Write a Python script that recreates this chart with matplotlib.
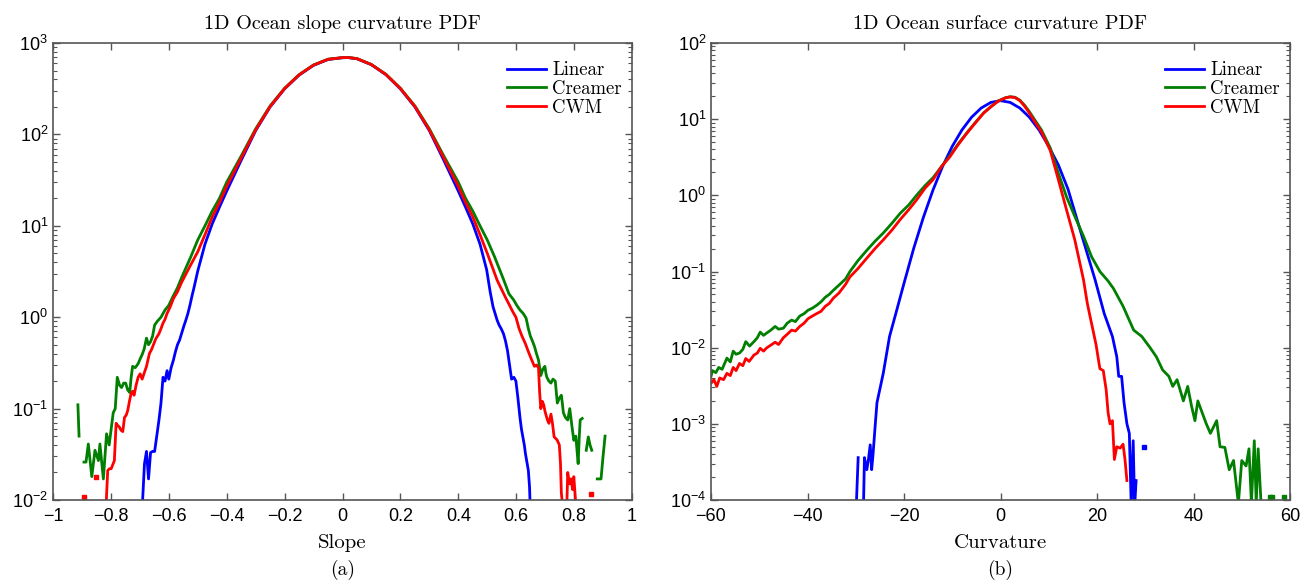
import numpy as np
import matplotlib
matplotlib.use("Agg")
import matplotlib.pyplot as plt

nan = np.nan

# ---- (a) slope PDF ----
slope_lin_x = [-0.692, -0.684, -0.677, -0.670, -0.663, -0.656, -0.649, -0.642, -0.634, -0.627,
               -0.620, -0.613, -0.606, -0.600, -0.592, -0.584, -0.577, -0.570, -0.563, -0.556,
               -0.548, -0.541, -0.534, -0.527, -0.520, -0.513, -0.50, -0.475, -0.45, -0.425,
               -0.40, -0.35, -0.30, -0.25, -0.20, -0.15, -0.10, -0.05, 0.0, 0.02,
               0.05, 0.10, 0.15, 0.20, 0.25, 0.30, 0.35, 0.40, 0.425, 0.45,
               0.475, 0.498, 0.510, 0.520, 0.527, 0.534, 0.541, 0.548, 0.556, 0.563,
               0.570, 0.577, 0.584, 0.592, 0.599, 0.606, 0.613, 0.618, 0.623, 0.628,
               0.632, 0.637, 0.642, 0.646, 0.650]
slope_lin_y = [0.008, 0.025, 0.034, 0.017, 0.033, 0.034, 0.034, 0.049, 0.075, 0.115,
               0.22, 0.20, 0.26, 0.21, 0.28, 0.34, 0.42, 0.50, 0.56, 0.66,
               0.80, 0.93, 1.1, 1.35, 1.7, 2.1, 3.2, 6.3, 10.5, 16,
               24, 52, 110, 200, 315, 445, 570, 660, 690, 692,
               672, 578, 450, 315, 200, 110, 52, 24, 16, 10.5,
               6.3, 3.3, 1.9, 1.3, 1.1, 0.93, 0.82, 0.75, 0.66, 0.55,
               0.43, 0.30, 0.21, 0.22, 0.20, 0.13, 0.08, 0.060, 0.049, 0.040,
               0.032, 0.026, 0.021, 0.014, 0.006]

slope_cre_x = [-0.914, -0.910, nan, -0.893, -0.886, -0.878, -0.866, -0.855, -0.843, -0.838,
               -0.826, -0.815, -0.806, -0.799, -0.792, -0.785, -0.778, -0.770, -0.763, -0.756,
               -0.749, -0.742, -0.735, -0.730, -0.725, -0.716, -0.706, -0.699, -0.692, -0.685,
               -0.677, -0.670, -0.663, -0.656, -0.649, -0.640, -0.627, -0.613, -0.600, -0.585,
               -0.570, -0.556, -0.525, -0.50, -0.475, -0.45, -0.425, -0.40, -0.35, -0.30,
               -0.25, -0.20, -0.15, -0.10, -0.05, 0.0, 0.02, 0.05, 0.10, 0.15,
               0.20, 0.25, 0.30, 0.35, 0.40, 0.425, 0.45, 0.475, 0.50, 0.525,
               0.556, 0.575, 0.591, 0.602, 0.613, 0.624, 0.634, 0.642, 0.649, 0.656,
               0.663, 0.670, 0.677, 0.681, 0.685, 0.692, 0.699, 0.703, 0.706, 0.713,
               0.720, 0.727, 0.735, 0.742, 0.749, 0.756, 0.760, 0.763, 0.770, 0.778,
               0.785, 0.792, 0.799, 0.806, 0.810, 0.814, 0.818, 0.821, 0.828, nan,
               0.842, 0.849, 0.855, 0.861, nan, 0.880, 0.893, 0.900, 0.907]
slope_cre_y = [0.11, 0.05, nan, 0.026, 0.026, 0.041, 0.018, 0.035, 0.027, 0.041,
               0.017, 0.053, 0.04, 0.06, 0.09, 0.10, 0.22, 0.18, 0.17, 0.19,
               0.19, 0.16, 0.15, 0.22, 0.29, 0.28, 0.31, 0.35, 0.39, 0.45,
               0.59, 0.50, 0.54, 0.62, 0.82, 0.90, 1.0, 1.2, 1.35, 1.7,
               2.1, 2.7, 4.5, 7.0, 10, 14.5, 20, 30, 58, 115,
               205, 320, 450, 575, 665, 692, 694, 676, 582, 455,
               320, 205, 115, 58, 30, 20, 14.5, 10, 7.0, 4.6,
               2.6, 1.8, 1.55, 1.35, 1.2, 1.1, 0.98, 0.75, 0.62, 0.55,
               0.48, 0.40, 0.34, 0.28, 0.23, 0.27, 0.29, 0.24, 0.22, 0.20,
               0.19, 0.21, 0.20, 0.115, 0.13, 0.14, 0.11, 0.09, 0.08, 0.075,
               0.10, 0.066, 0.045, 0.05, 0.035, 0.025, 0.05, 0.075, 0.078, nan,
               0.035, 0.049, 0.04, 0.035, nan, 0.017, 0.017, 0.03, 0.05]

slope_cwm_x = [-0.818, -0.811, -0.805, -0.799, -0.788, -0.782, -0.776, -0.771, -0.765, -0.759,
               -0.753, -0.747, -0.742, -0.736, -0.730, -0.725, -0.720, -0.713, -0.706, -0.699,
               -0.692, -0.684, -0.677, -0.667, -0.660, -0.653, -0.645, -0.634, -0.627, -0.620,
               -0.613, -0.606, -0.595, -0.584, -0.570, -0.556, -0.525, -0.50, -0.475, -0.45,
               -0.425, -0.40, -0.35, -0.30, -0.25, -0.20, -0.15, -0.10, -0.05, 0.0,
               0.02, 0.05, 0.10, 0.15, 0.20, 0.25, 0.30, 0.35, 0.40, 0.425,
               0.45, 0.475, 0.50, 0.534, 0.55, 0.565, 0.577, 0.588, 0.599, 0.610,
               0.620, 0.631, 0.642, 0.652, 0.663, 0.670, 0.677, 0.681, 0.685, 0.690,
               0.695, 0.699, 0.703, 0.708, 0.713, 0.720, 0.725, 0.731, 0.737, 0.742,
               0.749, 0.753, 0.756, 0.760, nan, 0.775, 0.778, 0.784, 0.789, 0.795,
               0.799, 0.803, 0.806]
slope_cwm_y = [0.007, 0.021, 0.022, 0.022, 0.027, 0.069, 0.065, 0.063, 0.058, 0.056,
               0.08, 0.085, 0.095, 0.12, 0.148, 0.155, 0.14, 0.18, 0.22, 0.24,
               0.21, 0.25, 0.29, 0.40, 0.44, 0.50, 0.58, 0.66, 0.75, 0.86,
               0.95, 1.1, 1.3, 1.6, 1.9, 2.4, 3.7, 5.2, 8.0, 12.5,
               18, 27, 55, 112, 202, 318, 448, 573, 663, 692,
               693, 674, 580, 452, 318, 202, 112, 55, 27, 18,
               12.5, 8.0, 5.0, 2.55, 2.0, 1.6, 1.35, 1.15, 1.0, 0.75,
               0.62, 0.52, 0.42, 0.35, 0.29, 0.30, 0.28, 0.15, 0.10, 0.12,
               0.11, 0.095, 0.085, 0.075, 0.069, 0.087, 0.07, 0.049, 0.047, 0.045,
               0.04, 0.025, 0.0118, 0.009, nan, 0.009, 0.02, 0.015, 0.017, 0.013,
               0.018, 0.012, 0.009]
slope_cwm_dots_x = [-0.893, -0.851, 0.857]
slope_cwm_dots_y = [0.0107, 0.0178, 0.0115]

# ---- (b) curvature PDF ----
curv_lin_x = [-29.9, -29.5, nan, -28.4, -28.2, -27.7, -27.4, -27.0, -26.7, -26.4,
              -26.0, -25.6, -24.3, -23.0, -21.7, -20.0, -18.0, -16.0, -14.0, -12.0,
              -10.0, -8.0, -6.0, -4.0, -2.0, 0.0, 2.0, 4.0, 6.0, 8.0,
              10.0, 12.0, 14.0, 16.0, 18.0, 19.6, 21.5, 23.2, 24.1, 24.5,
              25.1, 25.6, 26.2, 26.7, 27.1, 27.5, 27.8, 28.1]
curv_lin_y = [0.00008, 0.00036, nan, 0.00008, 0.00036, 0.00025, 0.00033, 0.00053, 0.00025, 0.00041,
              0.0009, 0.0019, 0.0046, 0.014, 0.028, 0.07, 0.2, 0.51, 1.17, 2.4,
              4.4, 7.2, 10.6, 14.0, 16.6, 17.5, 16.6, 14.0, 10.6, 7.2,
              4.4, 2.5, 1.2, 0.45, 0.17, 0.078, 0.028, 0.014, 0.0076, 0.0042,
              0.0042, 0.0019, 0.001, 0.00075, 0.00008, 0.0006, 0.00008, 0.00018]
curv_lin_dots_x = [29.7]
curv_lin_dots_y = [0.0005]

curv_cre_x = [-60.0, -59.7, -59.0, -58.4, -57.7, -56.7, -56.0, -55.4, -54.8, -54.1,
              -53.4, -52.8, -52.0, -51.1, -50.4, -49.8, -49.1, -48.5, -47.6, -46.7,
              -46.0, -45.0, -44.2, -43.3, -42.5, -41.6, -40.7, -39.9, -39.0, -38.1,
              -37.2, -36.3, -35.5, -34.6, -33.5, -32.1, -31.2, -29.5, -27.7, -26.0,
              -24.3, -22.5, -20.8, -19.0, -17.4, -15.6, -14.0, -12.2, -10.5, -8.8,
              -7.0, -5.3, -3.5, -2.0, -0.5, 1.0, 2.0, 3.0, 4.0, 5.0,
              6.0, 7.0, 8.5, 10.3, 12.0, 13.7, 15.4, 17.2, 18.9, 20.6,
              22.3, 23.4, 25.4, 27.6, 29.3, 31.0, 32.3, 33.6, 34.9, 35.7,
              36.6, 37.9, 38.8, 39.6, 40.3, 40.9, 41.8, 42.6, 43.5, 44.8,
              45.5, 46.5, 47.4, 48.3, 49.3, 50.0, 50.9, 51.5, 52.0, 52.6,
              53.0, 53.4, 54.0]
curv_cre_y = [0.0042, 0.005, 0.0047, 0.0055, 0.0052, 0.0073, 0.0065, 0.009, 0.0082, 0.0085,
              0.0095, 0.012, 0.0105, 0.012, 0.0135, 0.016, 0.0145, 0.0155, 0.017, 0.019,
              0.0175, 0.018, 0.021, 0.023, 0.022, 0.026, 0.028, 0.031, 0.033, 0.036,
              0.040, 0.046, 0.050, 0.057, 0.066, 0.080, 0.10, 0.14, 0.19, 0.25,
              0.32, 0.43, 0.58, 0.75, 1.0, 1.35, 1.7, 2.4, 3.3, 4.7,
              6.6, 8.9, 12.1, 14.6, 17.3, 19.1, 19.7, 19.4, 17.8, 15.2,
              12.5, 10.0, 7.2, 4.2, 1.95, 0.95, 0.53, 0.29, 0.155, 0.10,
              0.075, 0.06, 0.035, 0.017, 0.014, 0.010, 0.0076, 0.0051, 0.0042, 0.0031,
              0.0038, 0.0020, 0.0031, 0.0017, 0.0011, 0.0020, 0.0014, 0.00102, 0.00075, 0.0011,
              0.0005, 0.00049, 0.00025, 0.00033, 0.00009, 0.00033, 0.00028, 0.00047, 0.00009, 0.0006,
              0.00009, 0.00047, 0.00009]
curv_cre_dots_x = [55.8, 56.2, 58.8]
curv_cre_dots_y = [0.00011, 0.00011, 0.00011]

curv_cwm_x = [-60.0, -59.4, -58.8, -58.2, -57.4, -56.7, -56.0, -55.4, -54.8, -54.1,
              -53.4, -52.8, -52.1, -51.1, -50.4, -49.8, -49.1, -48.5, -47.6, -46.7,
              -46.0, -45.0, -44.2, -43.3, -42.5, -41.6, -40.7, -39.9, -39.0, -38.1,
              -37.2, -36.3, -35.5, -34.6, -33.5, -32.1, -31.2, -29.5, -27.7, -26.0,
              -24.3, -22.5, -20.8, -19.0, -17.4, -15.6, -14.0, -12.2, -10.5, -8.8,
              -7.0, -5.3, -3.5, -2.0, -0.5, 1.0, 2.0, 3.0, 4.0, 5.0,
              6.0, 7.0, 8.5, 10.3, 12.0, 13.7, 15.4, 17.2, 18.0, 18.6,
              19.3, 19.8, 20.2, 20.6, 21.3, 21.9, 22.3, 22.7, 23.2, 23.6,
              24.1, 24.8, 25.4, 25.8, 26.2]
curv_cwm_y = [0.0034, 0.0038, 0.0031, 0.0040, 0.0038, 0.0046, 0.0043, 0.0055, 0.0050, 0.0062,
              0.0058, 0.0072, 0.0066, 0.0080, 0.0085, 0.0098, 0.0090, 0.0099, 0.0108, 0.0118,
              0.0110, 0.0135, 0.0150, 0.0170, 0.0165, 0.019, 0.021, 0.024, 0.026, 0.028,
              0.030, 0.035, 0.038, 0.045, 0.052, 0.068, 0.085, 0.11, 0.15, 0.20,
              0.26, 0.35, 0.48, 0.65, 0.87, 1.25, 1.6, 2.4, 3.2, 4.6,
              6.5, 8.8, 12.0, 14.5, 17.2, 19.0, 19.6, 19.2, 17.5, 14.8,
              12.0, 9.5, 6.8, 3.9, 1.6, 0.64, 0.26, 0.078, 0.038, 0.025,
              0.0155, 0.011, 0.0076, 0.0053, 0.0050, 0.0028, 0.0014, 0.0010, 0.0011, 0.00034,
              0.0005, 0.00048, 0.00054, 0.00034, 0.00018]

slope_ticks = [-1, -0.8, -0.6, -0.4, -0.2, 0, 0.2, 0.4, 0.6, 0.8, 1]
slope_ticklabels = ['\u22121', '\u22120.8', '\u22120.6', '\u22120.4', '\u22120.2', '0',
                    '0.2', '0.4', '0.6', '0.8', '1']
curv_ticks = [-60, -40, -20, 0, 20, 40, 60]
curv_ticklabels = ['\u221260', '\u221240', '\u221220', '0', '20', '40', '60']

plt.rcParams['font.family'] = ['Liberation Sans', 'DejaVu Sans']
plt.rcParams['mathtext.fontset'] = 'custom'
plt.rcParams['mathtext.rm'] = 'Liberation Sans'
plt.rcParams['mathtext.it'] = 'Liberation Sans:italic'
plt.rcParams['mathtext.bf'] = 'Liberation Sans:bold'
serif = ['cmr10', 'DejaVu Serif']

fig = plt.figure(figsize=(13.02, 5.84), dpi=100)
ax1 = fig.add_axes([53 / 1302, 84 / 584, 579 / 1302, 457 / 584])
ax2 = fig.add_axes([711 / 1302, 84 / 584, 579 / 1302, 457 / 584])

c_lin, c_cre, c_cwm = '#0000ff', '#007f00', '#ff0000'
lw = 2.0


def style(ax):
    ax.set_yscale('log')
    for s in ax.spines.values():
        s.set_color('#555555')
        s.set_linewidth(1.2)
    ax.tick_params(which='both', direction='in', top=True, right=True,
                   color='#555555', labelsize=13, labelcolor='black')
    ax.tick_params(which='major', length=5, width=1.0)
    ax.tick_params(which='minor', length=3, width=0.8)
    ax.tick_params(axis='x', which='minor', top=False, bottom=False)
    ax.tick_params(axis='x', pad=6)


ax1.plot(slope_lin_x, slope_lin_y, color=c_lin, lw=lw, label='Linear')
ax1.plot(slope_cre_x, slope_cre_y, color=c_cre, lw=lw, label='Creamer')
ax1.plot(slope_cwm_x, slope_cwm_y, color=c_cwm, lw=lw, label='CWM')
ax1.plot(slope_cwm_dots_x, slope_cwm_dots_y, 's', color=c_cwm, ms=2.5)
style(ax1)
ax1.set_xlim(-1, 1)
ax1.set_ylim(1e-2, 1e3)
ax1.set_xticks(slope_ticks)
ax1.set_xticklabels(slope_ticklabels)
ax1.set_title('1D Ocean slope curvature PDF', family=serif, fontsize=14.5, pad=10)
ax1.set_xlabel('Slope', family=serif, fontsize=15, labelpad=6)

ax2.plot(curv_lin_x, curv_lin_y, color=c_lin, lw=lw, label='Linear')
ax2.plot(curv_cre_x, curv_cre_y, color=c_cre, lw=lw, label='Creamer')
ax2.plot(curv_cwm_x, curv_cwm_y, color=c_cwm, lw=lw, label='CWM')
ax2.plot(curv_lin_dots_x, curv_lin_dots_y, 's', color=c_lin, ms=2.5)
ax2.plot(curv_cre_dots_x, curv_cre_dots_y, 's', color=c_cre, ms=2.5)
style(ax2)
ax2.set_xlim(-60, 60)
ax2.set_ylim(1e-4, 1e2)
ax2.set_xticks(curv_ticks)
ax2.set_xticklabels(curv_ticklabels)
ax2.set_title('1D Ocean surface curvature PDF', family=serif, fontsize=14.5, pad=10)
ax2.set_xlabel('Curvature', family=serif, fontsize=15, labelpad=6)

for ax in (ax1, ax2):
    ax.legend(loc='upper right', bbox_to_anchor=(0.982, 0.96), frameon=False,
              prop={'family': serif, 'size': 13.5},
              handlelength=2.1, handletextpad=0.3, labelspacing=0.05,
              borderaxespad=0.0, borderpad=0.0)

fig.text(343 / 1302, 14 / 584, '(a)', family=serif, fontsize=14, ha='center', va='center')
fig.text(1000 / 1302, 14 / 584, '(b)', family=serif, fontsize=14, ha='center', va='center')

fig.savefig('out.png', dpi=100)
